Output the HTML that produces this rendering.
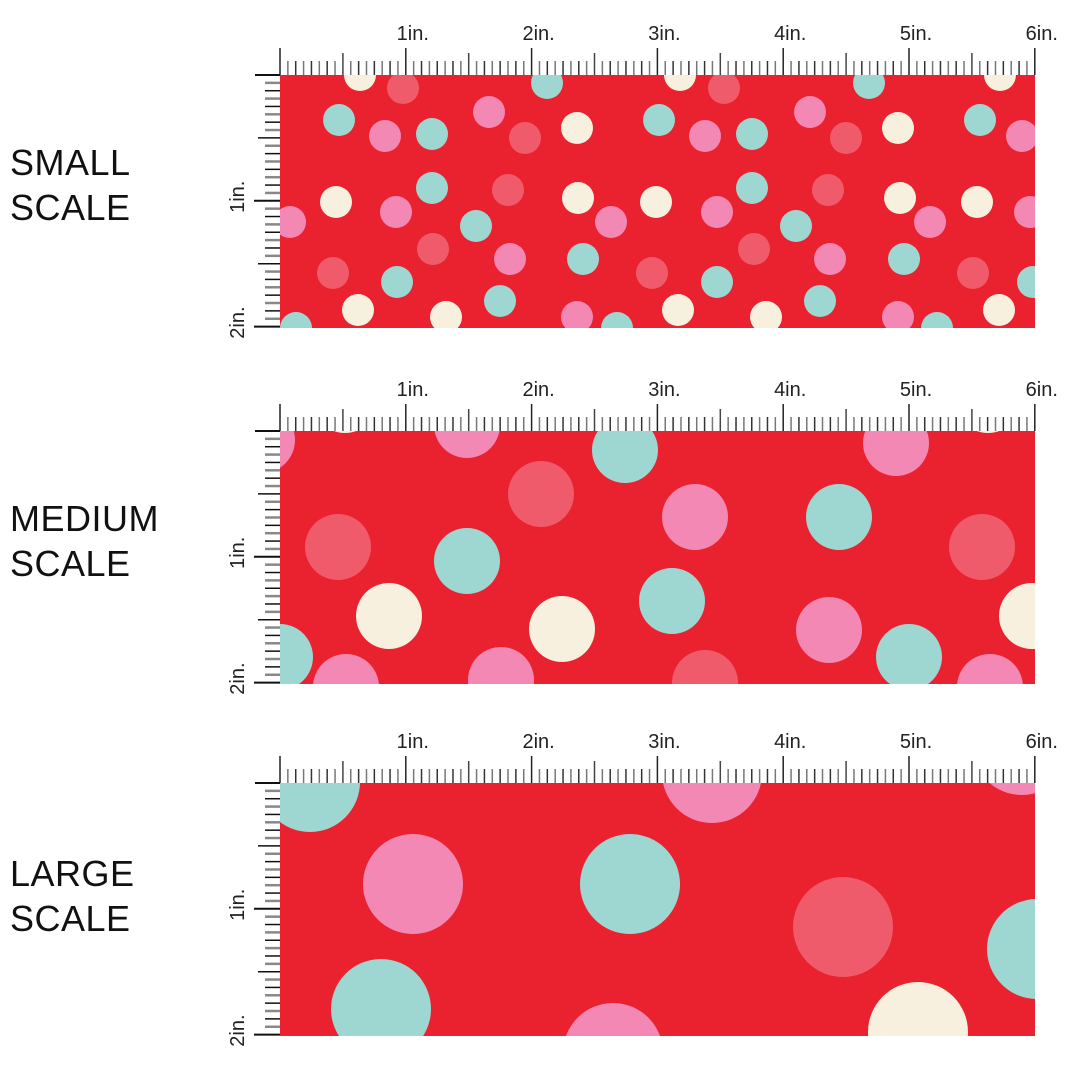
<!DOCTYPE html>
<html><head><meta charset="utf-8"><style>
html,body{margin:0;padding:0;background:#fff;}
body{width:1080px;height:1080px;overflow:hidden;position:relative;font-family:"Liberation Sans",sans-serif;}
.lbl{position:absolute;left:10px;font-size:36px;line-height:45px;color:#111;letter-spacing:0.5px;}
</style></head><body>
<div class="lbl" style="top:140px">SMALL<br>SCALE</div>
<div class="lbl" style="top:496px">MEDIUM<br>SCALE</div>
<div class="lbl" style="top:851px">LARGE<br>SCALE</div>
<svg id="svg" width="1080" height="1080" style="position:absolute;left:0;top:0"></svg>
<script>
const colors = {r:"#EA222F",t:"#9ED6D2",p:"#F488B4",c:"#F05B6B",w:"#F8F0DF"};
const panelTops = [75, 431, 783];
const panelRadii = [16, 33, 50];
const smallDots = [
 ["w",360,75],["c",403,88],["t",547,83],["w",680,75],["c",724,88],["t",869,83],["w",1000,75],
 ["p",489,112],["p",810,112],["t",339,120],["t",659,120],["t",980,120],
 ["p",385,136],["p",705,136],["p",1022,136],["t",432,134],["t",752,134],
 ["c",525,138],["c",846,138],["w",577,128],["w",898,128],
 ["t",432,188],["t",752,188],["c",508,190],["c",828,190],
 ["w",336,202],["w",578,198],["w",656,202],["w",900,198],["w",977,202],
 ["p",290,222],["p",396,212],["p",611,222],["p",717,212],["p",930,222],["p",1030,212],
 ["t",476,226],["t",796,226],["c",433,249],["c",754,249],
 ["t",583,259],["t",904,259],["p",510,259],["p",830,259],
 ["c",333,273],["c",652,273],["c",973,273],
 ["t",397,282],["t",717,282],["t",1033,282],["t",500,301],["t",820,301],
 ["w",358,310],["w",678,310],["w",999,310],["w",446,317],["w",766,317],
 ["t",296,328],["t",617,328],["t",937,328],["p",577,317],["p",898,317]
];
const mediumDots = [
 ["w",345,400],["p",467,425],["t",625,450],["p",896,443],["w",988,400],["p",262,440],
 ["c",541,494],["p",695,517],["t",839,517],
 ["c",338,547],["t",467,561],["c",982,547],
 ["w",389,616],["w",562,629],["t",672,601],["p",829,630],["t",909,657],["w",1032,616],["t",280,657],
 ["p",346,687],["p",501,680],["c",705,683],["p",990,687]
];
const largeDots = [
 ["t",310,782],["p",712,773],["p",1022,745],
 ["p",413,884],["t",630,884],["c",843,927],["t",1037,949],
 ["t",381,1009],["p",613,1053],["w",918,1032]
];
const allDots = [smallDots, mediumDots, largeDots];
const X0 = 280, PPI = 125.8, W = 755, H = 253;
const xs = i => X0 + i*PPI;
const NS = "http://www.w3.org/2000/svg";
const svg = document.getElementById('svg');
function mk(tag, attrs, parent){const e=document.createElementNS(NS,tag);for(const k in attrs)e.setAttribute(k,attrs[k]);(parent||svg).appendChild(e);return e;}
panelTops.forEach((top, pi) => {
  const g = mk('g', {});
  
  
  const cp = mk('clipPath', {id:'cp'+pi}, g);
  mk('rect', {x:X0, y:top, width:W, height:H}, cp);
  const bg = mk('rect', {x:X0, y:top, width:W, height:H, fill:colors.r}, g);
  
  
  const dg = mk('g', {'clip-path':'url(#cp'+pi+')'}, g);
  allDots[pi].forEach(d => {
    const c = mk('circle', {cx:d[1], cy:d[2], r:panelRadii[pi], fill:colors[d[0]]}, dg);
    
    
  });
  const rg = mk('g', {}, g);
  
  
  for (let k = 0; k <= 96; k++) {
    const x = X0 + k*PPI/16;
    let y1 = top - 14, col = (k%2 ? '#777' : '#333'), sw = 1.5;
    if (k%16 === 0) { y1 = top - 27; col = '#222'; }
    else if (k%8 === 0) { y1 = top - 22; col = '#444'; }
    mk('line', {x1:x, x2:x, y1:y1, y2:top, stroke:col, 'stroke-width':sw}, rg);
  }
  for (let i = 1; i <= 6; i++) {
    const t = mk('text', {x:xs(i)+7, y:top-35, 'text-anchor':'middle', 'font-size':20, fill:'#222', 'font-family':'Liberation Sans, sans-serif'}, rg);
    t.textContent = i + 'in.';
    
    
  }
  const lg = mk('g', {}, g);
  
  
  mk('line', {x1:255, x2:X0, y1:top, y2:top, stroke:'#111', 'stroke-width':2}, lg);
  for (let k = 1; k <= 32; k++) {
    const y = top + k*PPI/16;
    let x1 = 265, col = (k%2 ? '#888' : '#111'), sw = (k%2 ? 2.5 : 1.5);
    if (k%16 === 0) { x1 = 254; col = '#111'; sw = 2; }
    else if (k%8 === 0) { x1 = 258; col = '#111'; sw = 1.5; }
    mk('line', {x1:x1, x2:X0, y1:y, y2:y, stroke:col, 'stroke-width':sw}, lg);
  }
  [1,2].forEach(i => {
    const yc = top + i*PPI - 4;
    const t = mk('text', {x:0, y:0, transform:'translate(244,'+yc+') rotate(-90)', 'text-anchor':'middle', 'font-size':20, fill:'#222', 'font-family':'Liberation Sans, sans-serif'}, lg);
    t.textContent = i + 'in.';
    
    
  });
});
</script>
</body></html>
